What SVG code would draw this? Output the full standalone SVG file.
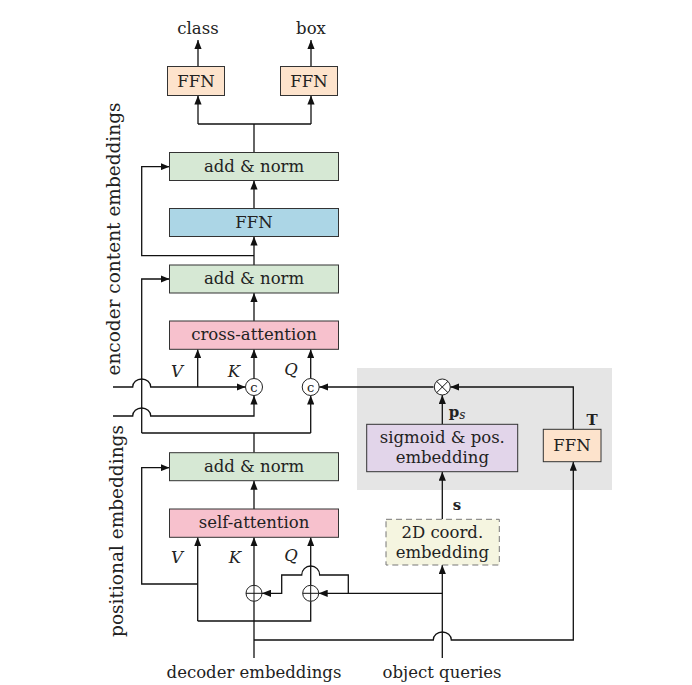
<svg xmlns="http://www.w3.org/2000/svg" width="692" height="685" viewBox="0 0 692 685">
<defs>
<marker id="ah" viewBox="0 0 10 8" refX="10" refY="4" markerWidth="9" markerHeight="7.5" orient="auto" markerUnits="userSpaceOnUse"><path d="M0,0 L10,4 L0,8 z" fill="#111"/></marker>
<style>
.t{font-family:"DejaVu Serif","Liberation Serif",serif;font-size:16.5px;fill:#222;text-anchor:middle}
.lab{font-family:"DejaVu Serif","Liberation Serif",serif;font-size:18.5px;fill:#222;text-anchor:middle}
.it{font-family:"DejaVu Serif","Liberation Serif",serif;font-size:16.5px;font-style:italic;fill:#222;text-anchor:middle}
.b{font-family:"DejaVu Serif","Liberation Serif",serif;font-size:15px;font-weight:bold;fill:#222;text-anchor:middle}
.box{stroke:#333;stroke-width:1}
.ln{fill:none;stroke:#111;stroke-width:1.3}
.ar{fill:none;stroke:#111;stroke-width:1.3;marker-end:url(#ah)}
.ffn{fill:#fde3cc}
.an{fill:#d6e8d4}
.bl{fill:#acd6e6}
.pk{fill:#f7c1cd}
.op{fill:#fff;stroke:#222;stroke-width:1}
.cc{font-family:"DejaVu Serif","Liberation Serif",serif;font-size:13px;fill:#222;text-anchor:middle}
</style>
</defs>
<rect x="0" y="0" width="692" height="685" fill="#fff"/>
<rect id="pos-region" x="357" y="368" width="255" height="122" fill="#e5e5e5"/>

<text class="lab" transform="translate(120,239) rotate(-90)">encoder content embeddings</text>
<text class="lab" transform="translate(123,531) rotate(-90)">positional embeddings</text>

<g id="connectors">
<path class="ar" d="M198,66.5 V40"/>
<path class="ar" d="M311,66.5 V40"/>
<path class="ln" d="M198,124 H311"/>
<path class="ar" d="M198,124 V95.5"/>
<path class="ar" d="M311,124 V95.5"/>
<path class="ln" d="M254,152.5 V124"/>
<path class="ar" d="M254,208.5 V180.5"/>
<path class="ar" d="M254,265 V236.5"/>
<path class="ar" d="M254,255.7 H141.7 V166.7 H169.5"/>
<path class="ar" d="M254,321 V293"/>
<path class="ar" d="M141.7,433 V279 H169.5"/>
<path class="ar" d="M197.7,387 V349.3"/>
<path class="ar" d="M113,387 H132.7 A9 8 0 0 1 150.7,387 H245.5"/>
<path class="ar" d="M254,378.5 V349.3"/>
<path class="ar" d="M310.7,378.5 V349.3"/>
<path class="ar" d="M113,416 H132.7 A9 8 0 0 1 150.7,416 H254 V395.5"/>
<path class="ln" d="M141.7,433 H310.7"/>
<path class="ar" d="M310.7,433 V395.5"/>
<path class="ln" d="M254,452.7 V433"/>
<path class="ar" d="M433.5,387 H319.2"/>
<path class="ar" d="M254,509 V480.7"/>
<path class="ar" d="M197.7,621 V537.3"/>
<path class="ar" d="M254,585.3 V537.3"/>
<path class="ar" d="M310.7,585.3 V537.3"/>
<path class="ar" d="M197.7,584 H141.7 V467.7 H169.5"/>
<path class="ln" d="M254,658 V601.3"/>
<path class="ln" d="M197.7,621 H310.7 V601.3"/>
<path class="ar" d="M254,640 H433.3 A9 8 0 0 1 451.3,640 H573.3 V461.7"/>
<path class="ar" d="M442.3,658 V565"/>
<path class="ar" d="M442.3,593.3 H318.7"/>
<path class="ar" d="M348.3,593.3 V575 H319.7 A9 9 0 0 0 301.7,575 H281.7 V593.3 H262"/>
<path class="ar" d="M442.3,519.3 V471.7"/>
<path class="ar" d="M442.3,424.3 V395"/>
<path class="ar" d="M573.3,429.3 V387 H450.3"/>
</g>

<g id="ffn-class"><rect class="box ffn" x="167.5" y="66.5" width="57" height="29"/><text class="t" x="196" y="86.5">FFN</text></g>
<g id="ffn-box"><rect class="box ffn" x="280.5" y="66.5" width="57" height="29"/><text class="t" x="309" y="86.5">FFN</text></g>
<text id="class" class="t" x="198" y="34">class</text>
<text id="box" class="t" x="311" y="34">box</text>

<g id="addnorm1"><rect class="box an" x="169.5" y="152.5" width="169" height="28"/><text class="t" x="254" y="171.5">add &amp; norm</text></g>
<g id="ffn-mid"><rect class="box bl" x="169.5" y="208.5" width="169" height="28"/><text class="t" x="254" y="227.5">FFN</text></g>
<g id="addnorm2"><rect class="box an" x="169.5" y="265" width="169" height="28"/><text class="t" x="254" y="284">add &amp; norm</text></g>
<g id="cross-attention"><rect class="box pk" x="169.5" y="321" width="169" height="28.3"/><text class="t" x="254" y="340">cross-attention</text></g>
<g id="addnorm3"><rect class="box an" x="169.5" y="452.7" width="169" height="28"/><text class="t" x="254" y="471.7">add &amp; norm</text></g>
<g id="self-attention"><rect class="box pk" x="169.5" y="509" width="169" height="28.3"/><text class="t" x="254" y="528">self-attention</text></g>

<text class="it" x="177" y="377">V</text>
<text class="it" x="234" y="377">K</text>
<text class="it" x="291" y="375">Q</text>
<text class="it" x="177" y="563">V</text>
<text class="it" x="235" y="563">K</text>
<text class="it" x="291" y="561">Q</text>

<g id="concat-k"><circle class="op" cx="254" cy="387" r="8.5"/><text class="cc" x="254" y="391.5">c</text></g>
<g id="concat-q"><circle class="op" cx="310.7" cy="387" r="8.5"/><text class="cc" x="310.7" y="391.5">c</text></g>
<g id="plus-k"><circle class="op" cx="254" cy="593.3" r="8"/><path class="ln" style="stroke-width:1" d="M246,593.3 H262 M254,585.3 V601.3"/></g>
<g id="plus-q"><circle class="op" cx="310.7" cy="593.3" r="8"/><path class="ln" style="stroke-width:1" d="M302.7,593.3 H318.7 M310.7,585.3 V601.3"/></g>
<g id="times"><circle class="op" cx="442.3" cy="387" r="8"/><path class="ln" style="stroke-width:1" d="M436.6,381.3 L448,392.7 M448,381.3 L436.6,392.7"/></g>

<g id="sigmoid"><rect class="box" fill="#e2d5ea" x="366.7" y="424.3" width="151" height="47.4"/><text class="t" x="442.3" y="443">sigmoid &amp; pos.</text><text class="t" x="442.3" y="463">embedding</text></g>
<g id="ffn-t"><rect class="box ffn" x="543.3" y="429.3" width="57.7" height="32.4"/><text class="t" x="572" y="451">FFN</text></g>
<g id="coord"><rect fill="#f5f5e0" stroke="#777" stroke-width="1" stroke-dasharray="6,4" x="386" y="519.3" width="113.3" height="45.7"/><text class="t" x="442.3" y="537.5">2D coord.</text><text class="t" x="442.3" y="557.5">embedding</text></g>

<text class="b" x="457" y="417">p<tspan style="font-size:12px;font-style:italic;font-weight:normal" dy="2">s</tspan></text>
<text class="b" x="592" y="425">T</text>
<text class="b" x="457" y="510">s</text>

<text class="t" x="254" y="678">decoder embeddings</text>
<text class="t" x="442" y="678">object queries</text>
</svg>
